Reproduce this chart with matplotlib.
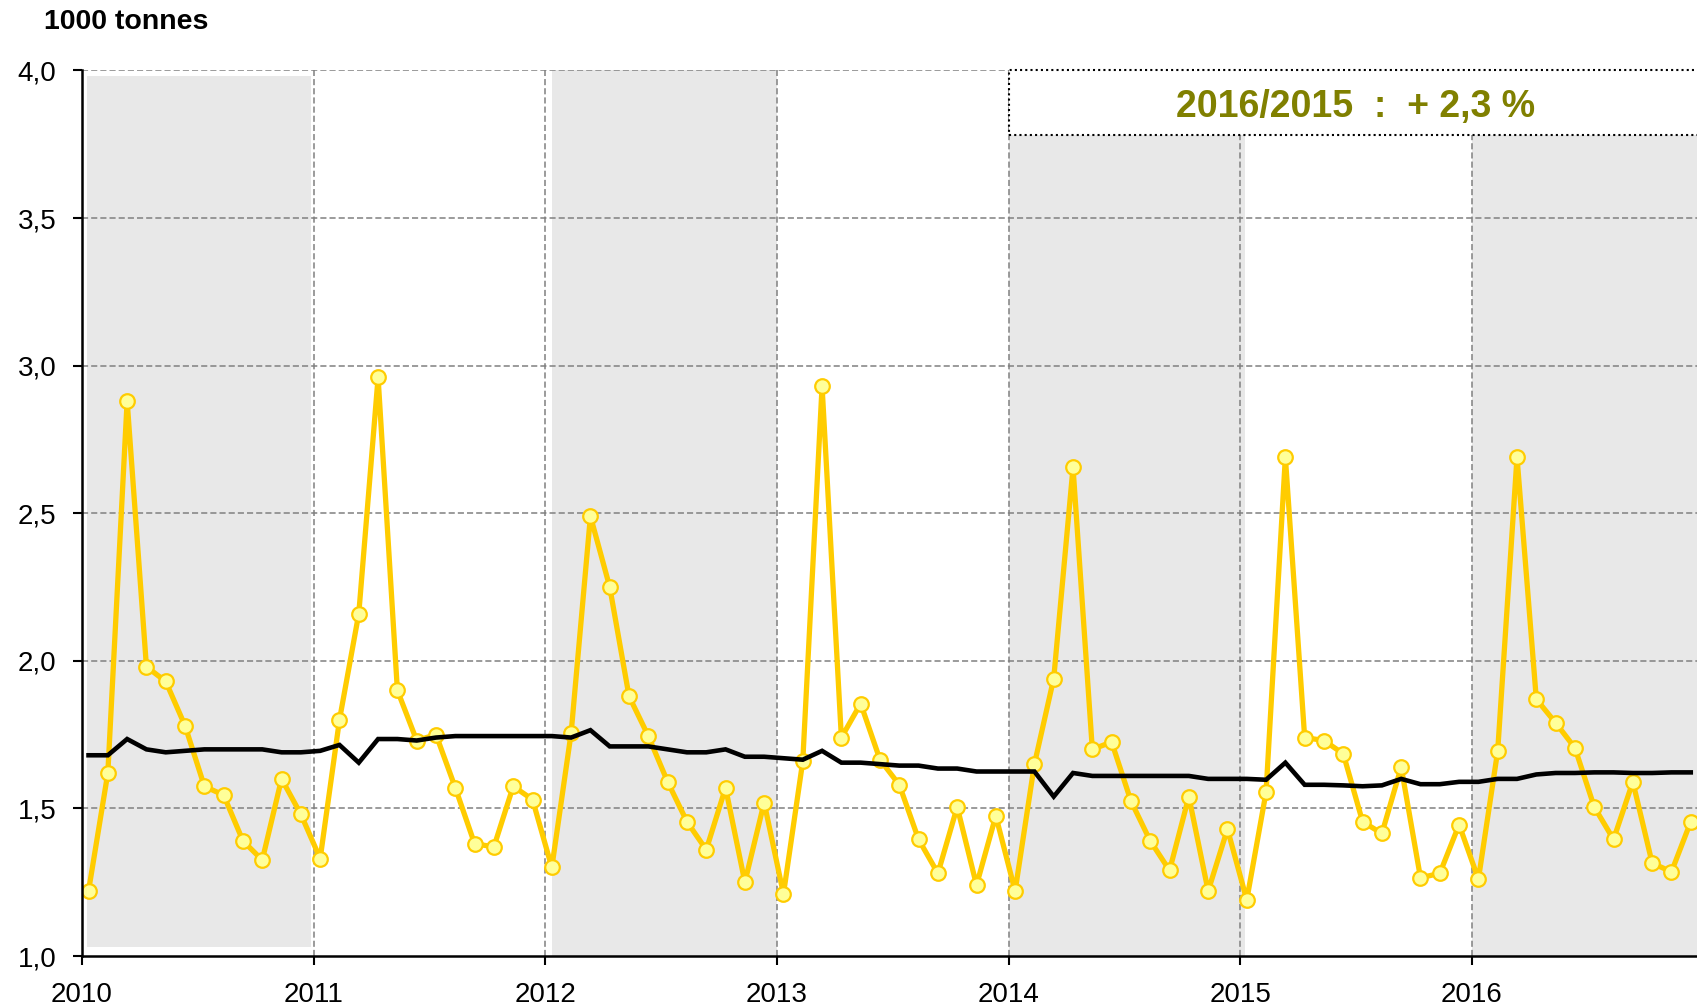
import numpy as np
import matplotlib
matplotlib.use("Agg")
import matplotlib.pyplot as plt
from matplotlib.patches import Rectangle

plt.rcParams['font.family'] = ['Liberation Sans', 'DejaVu Sans']

years = [2010, 2011, 2012, 2013, 2014, 2015, 2016]

# monthly values, 1000 tonnes
monthly = [
    1.22, 1.62, 2.88, 1.98, 1.93, 1.78, 1.575, 1.545, 1.39, 1.325, 1.60, 1.48,   # 2010
    1.33, 1.80, 2.16, 2.96, 1.90, 1.73, 1.75, 1.57, 1.38, 1.37, 1.575, 1.53,     # 2011
    1.30, 1.755, 2.49, 2.25, 1.88, 1.745, 1.59, 1.455, 1.36, 1.57, 1.25, 1.52,   # 2012
    1.21, 1.66, 2.93, 1.74, 1.855, 1.665, 1.58, 1.395, 1.28, 1.505, 1.24, 1.475, # 2013
    1.22, 1.65, 1.94, 2.655, 1.70, 1.725, 1.525, 1.39, 1.29, 1.54, 1.22, 1.43,   # 2014
    1.19, 1.555, 2.69, 1.74, 1.73, 1.685, 1.455, 1.415, 1.64, 1.265, 1.28, 1.445,# 2015
    1.26, 1.695, 2.69, 1.87, 1.79, 1.705, 1.505, 1.395, 1.59, 1.315, 1.285, 1.455,# 2016
]

# moving average (black line)
trend = [
    1.68, 1.68, 1.735, 1.70, 1.69, 1.695, 1.70, 1.70, 1.70, 1.70, 1.69, 1.69,
    1.695, 1.715, 1.655, 1.735, 1.735, 1.73, 1.74, 1.745, 1.745, 1.745, 1.745, 1.745,
    1.745, 1.74, 1.765, 1.71, 1.71, 1.71, 1.70, 1.69, 1.69, 1.70, 1.675, 1.675,
    1.67, 1.665, 1.695, 1.655, 1.655, 1.65, 1.645, 1.645, 1.635, 1.635, 1.625, 1.625,
    1.625, 1.625, 1.54, 1.62, 1.61, 1.61, 1.61, 1.61, 1.61, 1.61, 1.60, 1.60,
    1.60, 1.597, 1.655, 1.58, 1.58, 1.578, 1.575, 1.578, 1.60, 1.582, 1.582, 1.59,
    1.59, 1.60, 1.60, 1.615, 1.62, 1.62, 1.622, 1.622, 1.62, 1.62, 1.622, 1.622,
]

y_ticks = [1.0, 1.5, 2.0, 2.5, 3.0, 3.5, 4.0]
shaded_years = [2010, 2012, 2014, 2016]
note = "2016/2015  :  + 2,3 %"

x = np.array([years[0] + (i + 0.34) / 12 for i in range(len(monthly))])
x_right = 2016.972

fig = plt.figure(figsize=(16.97, 10.06), dpi=100)
ax = fig.add_axes([0.0483, 0.0497, 0.9517, 0.8803])
ax.set_xlim(2010, x_right)
ax.set_ylim(1.0, 4.0)

band_color = "#E8E8E8"
# 2010 band is slightly inset in the original
ax.add_patch(Rectangle((2010.02, 1.03), 0.97, 2.95, facecolor=band_color, edgecolor="none", zorder=0))
ax.axvspan(2012.03, 2013.0, color=band_color, lw=0, zorder=0)
ax.axvspan(2014.0, 2015.02, color=band_color, lw=0, zorder=0)
ax.axvspan(2016.0, 2017.0, color=band_color, lw=0, zorder=0)

grid_kw = dict(color="#808080", lw=1.1, ls=(0, (4, 2)), zorder=1)
for yv in y_ticks[1:]:
    ax.axhline(yv, **grid_kw)
for yr in years[1:]:
    ax.axvline(yr, **grid_kw)

ax.plot(x, monthly, color="#FFCC00", lw=3.8, marker="o", ms=10.5,
        mfc="#FFFF99", mec="#FFCC00", mew=1.6, zorder=3)
ax.plot(x, trend, color="black", lw=3.3, zorder=4, solid_joinstyle="miter")

# note box
ax.add_patch(Rectangle((2014.0, 3.78), 3.5, 0.22, facecolor="white", edgecolor="black",
                       lw=1.5, ls=(0, (1, 1.5)), zorder=5, clip_on=False))
ax.text(2015.5, 3.877, note, color="#808000", fontsize=27, fontweight="bold",
        ha="center", va="center", zorder=6)

ax.set_xticks(years)
ax.set_xticklabels([str(y) for y in years])
ax.set_yticks(y_ticks)
ax.set_yticklabels([f"{v:.1f}".replace(".", ",") for v in y_ticks])
ax.tick_params(axis="both", direction="out", length=6.5, width=1.5, labelsize=20, pad=12)

for s in ["top", "right"]:
    ax.spines[s].set_visible(False)
for s in ["left", "bottom"]:
    ax.spines[s].set_linewidth(1.8)
    ax.spines[s].set_zorder(7)

fig.text(0.026, 0.9785, "1000 tonnes", fontsize=20.5, fontweight="bold", ha="left", va="center")

fig.savefig("out.png", dpi=100)
